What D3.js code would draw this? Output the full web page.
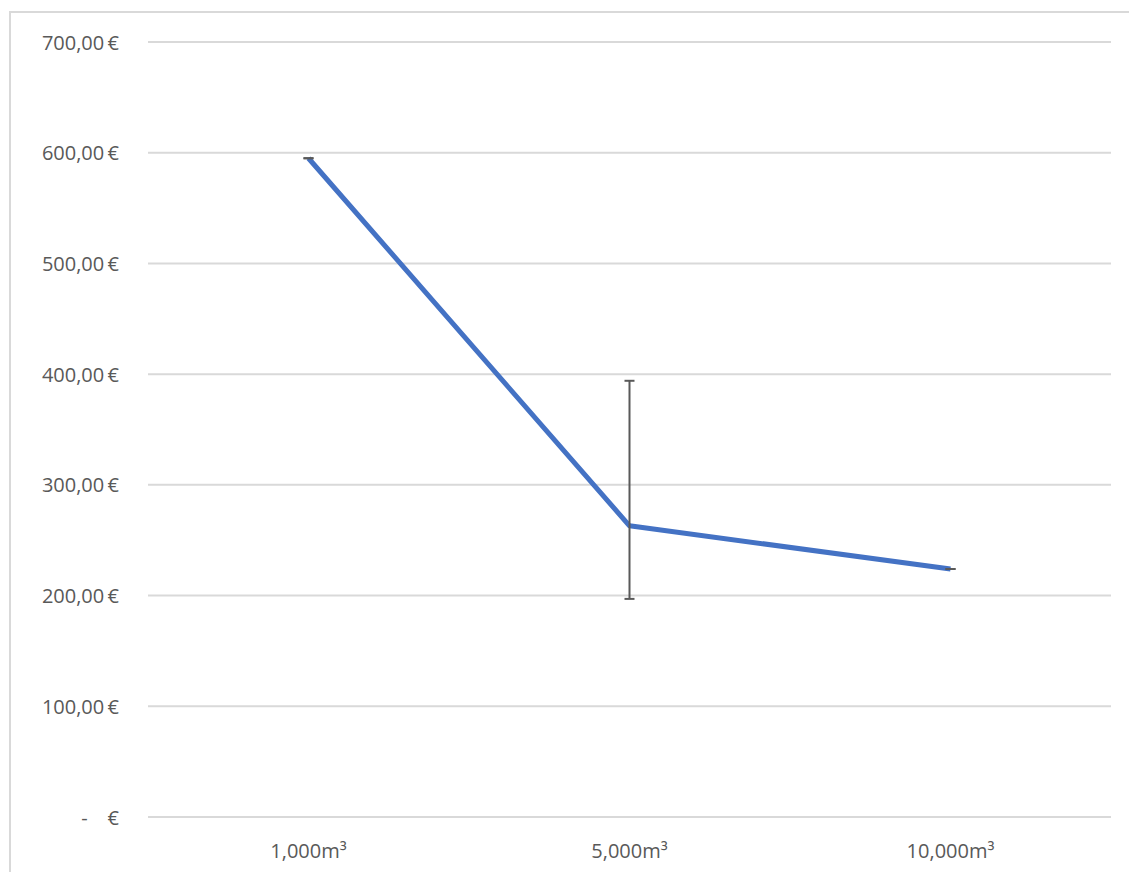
<!DOCTYPE html>
<html lang="en">
<head>
  <meta charset="UTF-8">
  <title>Price per volume</title>
  <style>
    body { margin: 0; background: #fff; }
    .tick text { font-family: "Open Sans", "Noto Sans", sans-serif; font-size: 20px; fill: #595959; }
  </style>
</head>
<body>
<div id="chart"></div>
<script src="https://cdn.jsdelivr.net/npm/d3@7"></script>
<script>
let categories = ['1,000m³', '5,000m³', '10,000m³']
let values = [595, 263, 224]
let errLow = [595, 197, 224]
let errHigh = [595, 394, 224]
let yTicks = [0, 100, 200, 300, 400, 500, 600, 700]

let width = 1129
let height = 872
let plotLeft = 148, plotRight = 1111, plotTop = 42, plotBottom = 817

let svg = d3.select('#chart').append('svg').attr('width', width).attr('height', height)

// chart border (only top and left visible in the crop)
svg.append('path')
  .attr('d', 'M10,' + height + ' V12 H' + width)
  .attr('fill', 'none').attr('stroke', '#d9d9d9').attr('stroke-width', 2)

let x = d3.scaleBand().domain(categories).range([plotLeft, plotRight])
let y = d3.scaleLinear().domain([0, 700]).range([plotBottom, plotTop])

// euro formatting like Excel accounting style
function euro(v) {
  if (v === 0) return '-\u2003€'
  return v.toFixed(2).replace('.', ',') + '\u2009€'
}

let yAxis = d3.axisLeft(y).tickValues(yTicks).tickFormat(euro).tickSize(0).tickPadding(0)
let gy = svg.append('g').attr('transform', 'translate(119,0)').call(yAxis)
gy.select('.domain').remove()
gy.selectAll('.tick text').attr('dy', '0.35em').style('white-space', 'pre')

// gridlines
svg.append('g').selectAll('line').data(yTicks).join('line')
  .attr('x1', plotLeft).attr('x2', plotRight)
  .attr('y1', d => y(d)).attr('y2', d => y(d))
  .attr('stroke', '#d9d9d9').attr('stroke-width', 2)

let xAxis = d3.axisBottom(x).tickSize(0).tickPadding(0)
let gx = svg.append('g').attr('transform', 'translate(0,' + (plotBottom + 34) + ')').call(xAxis)
gx.select('.domain').remove()
gx.selectAll('.tick text').attr('dy', '0.35em')

let cx = d => x(d) + x.bandwidth() / 2

// error bars
let eb = svg.append('g').attr('stroke', '#595959').attr('stroke-width', 2)
categories.forEach((c, i) => {
  let px = cx(c)
  if (errHigh[i] !== errLow[i]) {
    eb.append('line').attr('x1', px).attr('x2', px).attr('y1', y(errHigh[i])).attr('y2', y(errLow[i]))
  }
  eb.append('line').attr('x1', px - 5).attr('x2', px + 5).attr('y1', y(errHigh[i])).attr('y2', y(errHigh[i]))
  eb.append('line').attr('x1', px - 5).attr('x2', px + 5).attr('y1', y(errLow[i])).attr('y2', y(errLow[i]))
})

// line
let line = d3.line().x((d, i) => cx(categories[i])).y(d => y(d))
svg.append('path').datum(values)
  .attr('d', line)
  .attr('fill', 'none').attr('stroke', '#4472c4').attr('stroke-width', 5)
  .attr('stroke-linejoin', 'round')

// error bar stem sits above the line in the reference
eb.raise()
</script>
</body>
</html>
